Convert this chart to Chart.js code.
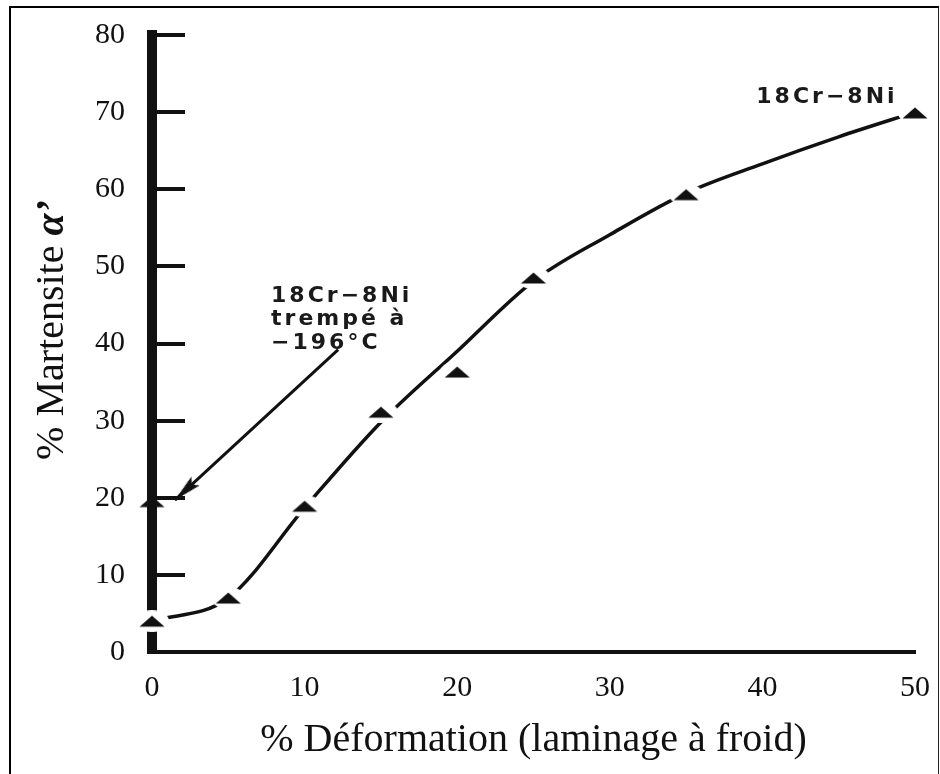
<!DOCTYPE html>
<html>
<head>
<meta charset="utf-8">
<script src="https://cdn.jsdelivr.net/npm/chart.js@4"></script>
<style>
    html, body { margin: 0; padding: 0; background: #fff; }
    #wrap { position: relative; width: 940px; height: 774px; overflow: hidden; }
    #frame { position: absolute; left: 9px; top: 6px; width: 927px; height: 800px;
             border-left: 2px solid #000; border-top: 2px solid #000; border-right: 1px solid #222; }
    #chart { position: absolute; left: 0; top: 0; }
</style>
</head>
<body>
<div id="wrap">
    <div id="frame"></div>
    <canvas id="chart" width="940" height="774"></canvas>
</div>
<script>
// 18Cr-8Ni measured points (% deformation, % martensite)
const deformation = [0, 5, 10, 15, 20, 25, 35, 50];
const martensite = [4, 7, 18.9, 31.1, 36.3, 48.5, 59.3, 69.9];

// fitted curve
const curveX = [0, 5, 10, 15, 20, 25, 30, 35, 40, 45, 50];
const curveY = [4, 7, 18.7, 29.8, 39.0, 48.1, 54.1, 59.5, 63.3, 66.8, 70];

// 18Cr-8Ni quenched at -196°C
const quenchedX = [0];
const quenchedY = [19.5];

// arrow from the label to the quenched point
const arrowX = [12.2, 1.5];
const arrowY = [39.2, 19.7];

const xTicks = [0, 10, 20, 30, 40, 50];
const yTicks = [0, 10, 20, 30, 40, 50, 60, 70, 80];

const xTitle = '% Déformation (laminage à froid)';
const yTitleMain = '% Martensite ';
const yTitleSym = 'α’';

const notes = [
    { x: 39.6, y: 71.2, lines: ['18Cr−8Ni'] },
    { x: 7.8, y: 45.4, lines: ['18Cr−8Ni', 'trempé à', '−196°C'] }
];

const ink = '#111';
const serif = '"Liberation Serif", "Times New Roman", serif';

function makeMarker(halo) {
    const c = document.createElement('canvas');
    c.width = 34;
    c.height = 22;
    const g = c.getContext('2d');
    if (halo) {
        g.fillStyle = '#fff';
        g.beginPath();
        g.ellipse(17, 11, 17, 11, 0, 0, Math.PI * 2);
        g.fill();
    }
    g.fillStyle = ink;
    g.beginPath();
    g.moveTo(17, 5.5);
    g.lineTo(29.5, 16.5);
    g.lineTo(4.5, 16.5);
    g.closePath();
    g.fill();
    return c;
}

function makeArrowHead() {
    const c = document.createElement('canvas');
    c.width = 14;
    c.height = 60;
    const g = c.getContext('2d');
    g.fillStyle = ink;
    g.beginPath();
    g.moveTo(7, 30);
    g.lineTo(13, 58);
    g.lineTo(7, 53);
    g.lineTo(1, 58);
    g.closePath();
    g.fill();
    return c;
}

const markerHalo = makeMarker(true);
const markerPlain = makeMarker(false);
const arrowHead = makeArrowHead();

const pts = (xs, ys) => xs.map((v, i) => ({ x: v, y: ys[i] }));

const notePlugin = {
    id: 'notes',
    afterDraw(chart) {
        const { ctx, scales: { x, y } } = chart;
        ctx.save();
        ctx.fillStyle = '#1a1a1a';
        ctx.font = 'bold 22px "DejaVu Sans", sans-serif';
        ctx.letterSpacing = '3px';
        ctx.textBaseline = 'alphabetic';
        ctx.textAlign = 'left';
        notes.forEach(n => {
            const px = x.getPixelForValue(n.x);
            const py = y.getPixelForValue(n.y);
            n.lines.forEach((t, i) => ctx.fillText(t, px, py + i * 23.5));
        });
        ctx.letterSpacing = '0px';

        // y axis title, with the bold italic alpha
        ctx.fillStyle = ink;
        ctx.translate(63, 330);
        ctx.rotate(-Math.PI / 2);
        const f1 = '40px ' + serif;
        const f2 = 'italic bold 40px ' + serif;
        ctx.font = f1;
        const w1 = ctx.measureText(yTitleMain).width;
        ctx.font = f2;
        const w2 = ctx.measureText(yTitleSym).width;
        const sx = -(w1 + w2) / 2;
        ctx.font = f1;
        ctx.fillText(yTitleMain, sx, 0);
        ctx.font = f2;
        ctx.fillText(yTitleSym, sx + w1, 0);
        ctx.restore();
    }
};

const ctx = document.getElementById('chart').getContext('2d');

new Chart(ctx, {
    type: 'line',
    data: {
        datasets: [
            {
                label: '18Cr-8Ni',
                data: pts(deformation, martensite),
                showLine: false,
                pointStyle: markerHalo,
                pointRadius: 10,
                clip: false
            },
            {
                label: '18Cr-8Ni trempé à -196°C',
                data: pts(quenchedX, quenchedY),
                showLine: false,
                pointStyle: markerPlain,
                pointRadius: 10,
                clip: false
            },
            {
                label: 'arrow',
                data: pts(arrowX, arrowY),
                borderColor: ink,
                borderWidth: 3,
                pointRadius: [0, 8],
                pointStyle: arrowHead,
                pointRotation: (c) => {
                    const xs = c.chart.scales.x;
                    const ys = c.chart.scales.y;
                    const dx = xs.getPixelForValue(arrowX[1]) - xs.getPixelForValue(arrowX[0]);
                    const dy = ys.getPixelForValue(arrowY[1]) - ys.getPixelForValue(arrowY[0]);
                    return Math.atan2(dx, -dy) * 180 / Math.PI;
                },
                clip: false
            },
            {
                label: 'curve',
                data: pts(curveX, curveY),
                borderColor: ink,
                borderWidth: 3.5,
                cubicInterpolationMode: 'monotone',
                pointRadius: 0,
                clip: false
            }
        ]
    },
    options: {
        responsive: false,
        animation: false,
        events: [],
        layout: {
            padding: { left: 0, right: 20, top: 35, bottom: 0 }
        },
        scales: {
            x: {
                type: 'linear',
                min: 0,
                max: 50,
                afterBuildTicks: (s) => { s.ticks = xTicks.map(v => ({ value: v })); },
                afterFit: (s) => { s.height = 122; },
                grid: { display: false },
                border: { display: true, width: 4, color: ink },
                ticks: {
                    padding: 10,
                    color: ink,
                    font: { family: serif, size: 30 }
                },
                title: {
                    display: true,
                    text: xTitle,
                    color: ink,
                    font: { family: serif, size: 40 },
                    padding: { top: 0, bottom: 10 }
                }
            },
            y: {
                type: 'linear',
                min: 0,
                max: 80,
                z: 1,
                afterBuildTicks: (s) => { s.ticks = yTicks.map(v => ({ value: v })); },
                afterFit: (s) => {
                    s.width = 152;
                    s.paddingTop = 0;
                    s.paddingBottom = 0;
                },
                grid: {
                    display: true,
                    drawOnChartArea: false,
                    drawTicks: true,
                    tickLength: -33,
                    lineWidth: 4,
                    color: ink
                },
                border: { display: true, width: 10, color: ink },
                ticks: {
                    padding: 60,
                    color: ink,
                    font: { family: serif, size: 30 }
                }
            }
        },
        plugins: {
            legend: { display: false },
            tooltip: { enabled: false }
        }
    },
    plugins: [notePlugin]
});
</script>
</body>
</html>
